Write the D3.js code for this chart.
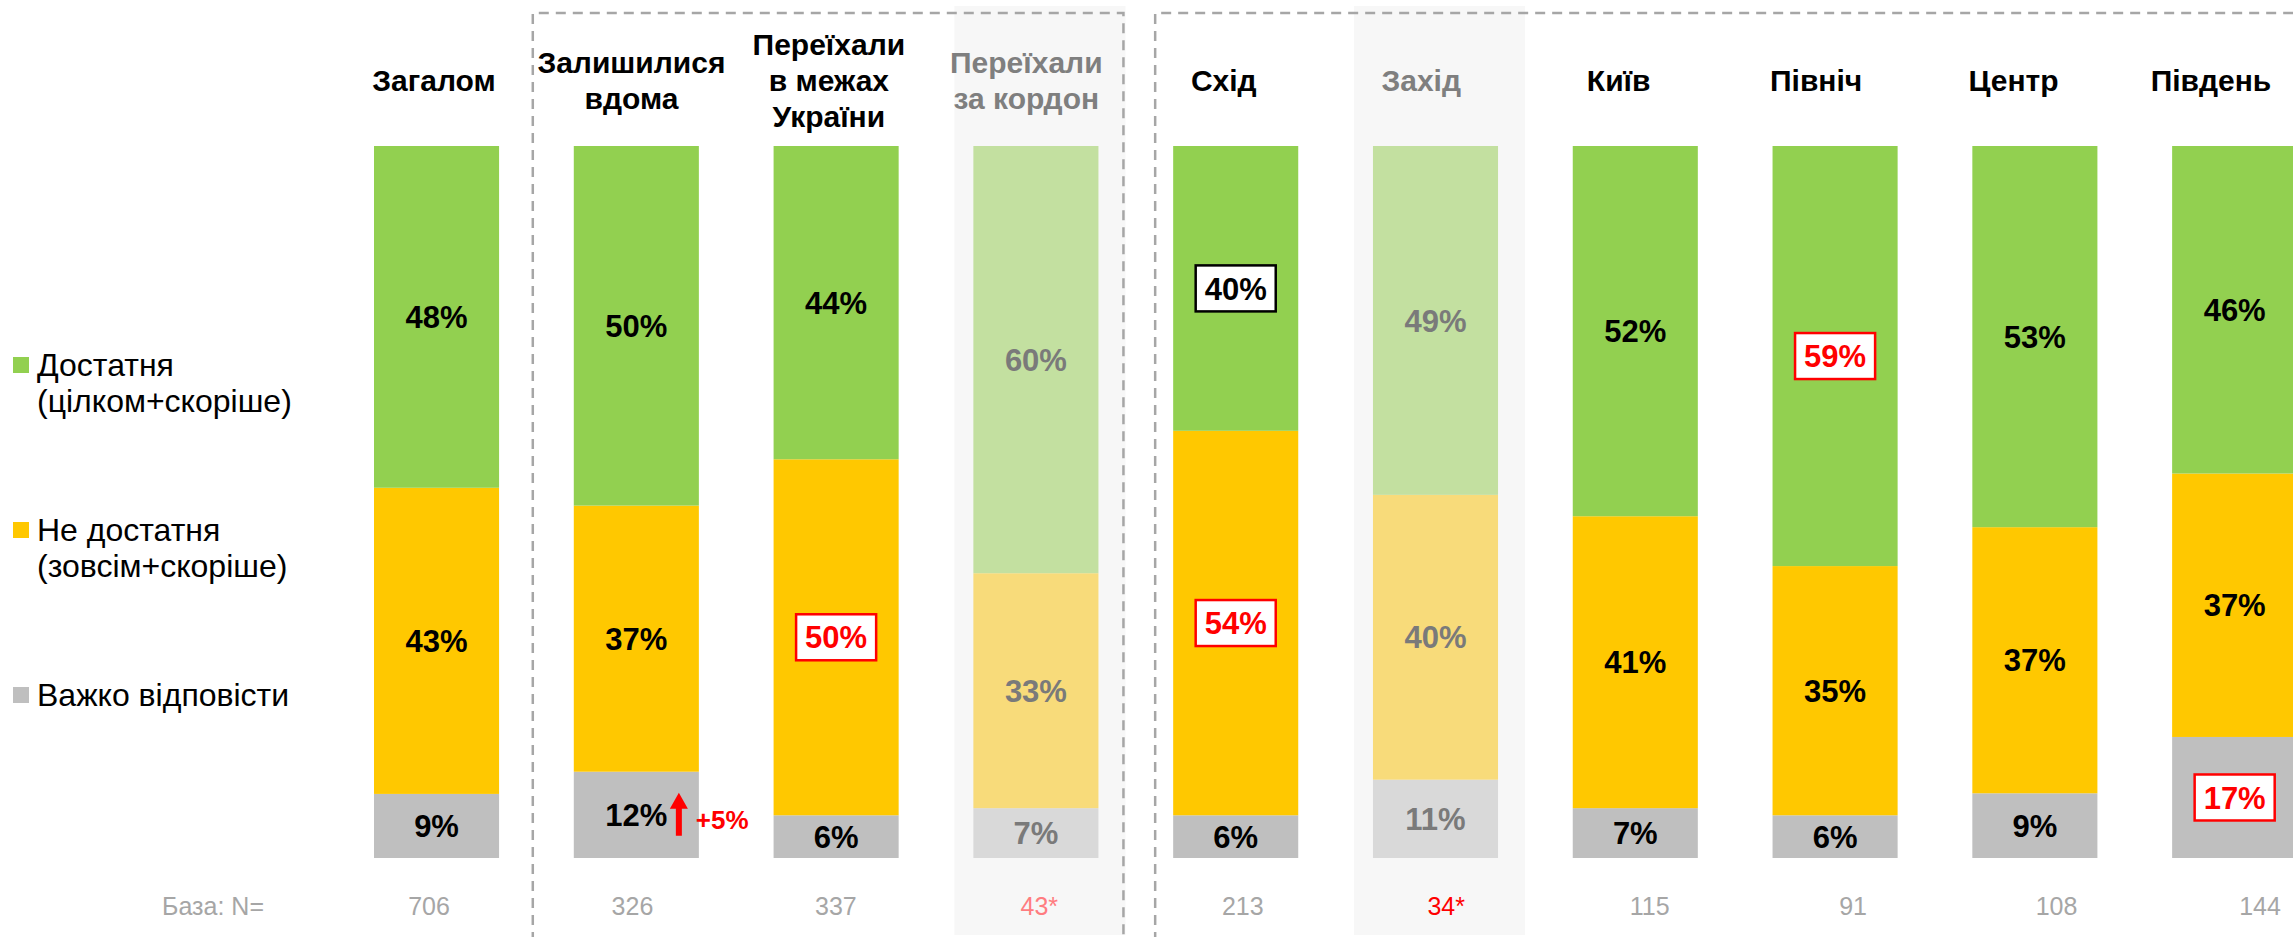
<!DOCTYPE html>
<html>
<head>
<meta charset="utf-8">
<script src="https://cdn.jsdelivr.net/npm/d3@7"></script>
<style>
  html, body { margin: 0; padding: 0; background: #ffffff; }
  svg { display: block; font-family: "Liberation Sans", Arial, Helvetica, sans-serif; }
</style>
</head>
<body>
<svg id="chart" width="2293" height="937"></svg>
<script>
// ---------------- DATA ----------------
const categories = ["Загалом", "Залишилися вдома", "Переїхали в межах України", "Переїхали за кордон",
                    "Схід", "Захід", "Київ", "Північ", "Центр", "Південь"];
const headerLines = [["Загалом"], ["Залишилися", "вдома"], ["Переїхали", "в межах", "України"],
                     ["Переїхали", "за кордон"], ["Схід"], ["Захід"], ["Київ"], ["Північ"], ["Центр"], ["Південь"]];
const seriesNames = ["Достатня\n(цілком+скоріше)", "Не достатня\n(зовсім+скоріше)", "Важко відповісти"];
const sufficient   = [48, 50, 44, 60, 40, 49, 52, 59, 53, 46];
const insufficient = [43, 37, 50, 33, 54, 40, 41, 35, 37, 37];
const hardToSay    = [9, 12, 6, 7, 6, 11, 7, 6, 9, 17];
const baseN        = ["706", "326", "337", "43*", "213", "34*", "115", "91", "108", "144"];
const lowBase      = [false, false, false, true, false, true, false, false, false, false];
const baseLabel    = "База: N=";
// highlighted labels: [category index, series key, kind]
const highlights = [[4, "sufficient", "neutral"], [4, "insufficient", "up"], [2, "insufficient", "up"],
                    [7, "sufficient", "up"], [9, "hardToSay", "up"]];
const changeNote = [1, "hardToSay", "+5%"];

// ---------------- STYLE ----------------
const W = 2293, H = 937;
const colors = { sufficient: "#92D050", insufficient: "#FFC800", hardToSay: "#BFBFBF" };
const fadedColors = { sufficient: "#C3E0A0", insufficient: "#F8DB7A", hardToSay: "#D9D9D9" };
const keys = ["hardToSay", "insufficient", "sufficient"]; // bottom to top

const svg = d3.select("#chart");

const rows = categories.map((c, i) => ({
  cat: c, i,
  sufficient: sufficient[i], insufficient: insufficient[i], hardToSay: hardToSay[i]
}));

const x = d3.scaleBand().domain(categories).range([374, 2297.2]).paddingInner(0.374).paddingOuter(0);
const y = d3.scaleLinear().domain([0, 1]).range([858, 146]);
const xHead = d3.scalePoint().domain(categories).range([434, 2211]);
const xBase = d3.scalePoint().domain(categories).range([429, 2260]);

const stack = d3.stack().keys(keys).offset(d3.stackOffsetExpand);
const stacked = stack(rows);

// faded column backgrounds
svg.append("g").selectAll("rect")
  .data(rows.filter(r => lowBase[r.i]))
  .join("rect")
  .attr("x", d => x(d.cat) - 19)
  .attr("width", d => x.bandwidth() + 46)
  .attr("y", 6).attr("height", 929)
  .attr("fill", "#F7F7F7");

// dashed group boxes
const dashG = svg.append("g").attr("fill", "none").attr("stroke", "#A6A6A6")
  .attr("stroke-width", 2.5).attr("stroke-dasharray", "10,7");
const b1L = x(categories[1]) - 41, b1R = x(categories[3]) + x.bandwidth() + 25;
const b2L = x(categories[4]) - 18;
dashG.append("path").attr("d", `M${b1L},${H + 5}V13H${b1R}V${H + 5}`);
dashG.append("path").attr("d", `M${b2L},${H + 5}V13H${W + 10}`);

// bars
const barG = svg.append("g");
stacked.forEach(layer => {
  barG.append("g").selectAll("rect")
    .data(layer)
    .join("rect")
    .attr("x", d => x(d.data.cat))
    .attr("width", x.bandwidth())
    .attr("y", d => y(d[1]))
    .attr("height", d => y(d[0]) - y(d[1]))
    .attr("fill", d => lowBase[d.data.i] ? fadedColors[layer.key] : colors[layer.key]);
});

// value labels
const labG = svg.append("g");
stacked.forEach(layer => {
  layer.forEach(d => {
    const i = d.data.i;
    const cx = x(d.data.cat) + x.bandwidth() / 2;
    const cy = (y(d[0]) + y(d[1])) / 2;
    const hl = highlights.find(h => h[0] === i && h[1] === layer.key);
    const g = labG.append("g");
    const t = g.append("text")
      .attr("x", cx).attr("y", cy).attr("dy", "0.36em")
      .attr("text-anchor", "middle")
      .attr("font-size", 31).attr("font-weight", "bold")
      .attr("fill", lowBase[i] ? "#7A7A7A" : (hl && hl[2] === "up" ? "#FF0000" : "#000000"))
      .text(d.data[layer.key] + "%");
    if (hl) {
      const bb = t.node().getBBox();
      g.insert("rect", "text")
        .attr("x", bb.x - 9).attr("y", cy - 23)
        .attr("width", bb.width + 18).attr("height", 46)
        .attr("fill", "#FFFFFF")
        .attr("stroke", hl[2] === "up" ? "#FF0000" : "#000000")
        .attr("stroke-width", 2.5);
    }
  });
});

// change note (arrow + text)
{
  const ci = changeNote[0];
  const layer = stacked.find(l => l.key === changeNote[1]);
  const d = layer[ci];
  const right = x(categories[ci]) + x.bandwidth();
  const cy = (y(d[0]) + y(d[1])) / 2;
  const ax = right - 20;
  svg.append("path")
    .attr("d", `M${ax},${cy - 22} L${ax + 9},${cy - 6} L${ax + 3},${cy - 6} L${ax + 3},${cy + 21} L${ax - 3},${cy + 21} L${ax - 3},${cy - 6} L${ax - 9},${cy - 6} Z`)
    .attr("fill", "#FF0000");
  svg.append("text")
    .attr("x", right - 3).attr("y", cy + 14)
    .attr("font-size", 26).attr("font-weight", "bold").attr("fill", "#FF0000")
    .text(changeNote[2]);
}

// headers
const headG = svg.append("g");
categories.forEach((c, i) => {
  const lines = headerLines[i];
  const t = headG.append("text")
    .attr("text-anchor", "middle")
    .attr("font-size", 30).attr("font-weight", "bold")
    .attr("fill", lowBase[i] ? "#7F7F7F" : "#000000");
  lines.forEach((ln, k) => {
    t.append("tspan")
      .attr("x", xHead(c))
      .attr("y", 91 + (k - (lines.length - 1) / 2) * 36)
      .text(ln);
  });
});

// base row
const baseG = svg.append("g").attr("font-size", 25);
baseG.append("text").attr("x", 264).attr("y", 915).attr("text-anchor", "end")
  .attr("fill", "#A6A6A6").text(baseLabel);
baseG.selectAll("text.n").data(categories).join("text")
  .attr("class", "n")
  .attr("x", c => xBase(c)).attr("y", 915).attr("text-anchor", "middle")
  .attr("fill", (c, i) => lowBase[i] ? (i === 3 ? "#FF7C80" : "#FF0000") : "#A6A6A6")
  .text((c, i) => baseN[i]);

// legend
const legKeys = ["sufficient", "insufficient", "hardToSay"];
const legG = svg.append("g");
legKeys.forEach((k, j) => {
  const top = 357 + j * 165;
  legG.append("rect").attr("x", 13).attr("y", top).attr("width", 16).attr("height", 16)
    .attr("fill", colors[k]);
  const t = legG.append("text").attr("font-size", 32).attr("fill", "#000000");
  seriesNames[j].split("\n").forEach((ln, m) => {
    t.append("tspan").attr("x", 37).attr("y", top + 19 + m * 36).text(ln);
  });
});
</script>
</body>
</html>
